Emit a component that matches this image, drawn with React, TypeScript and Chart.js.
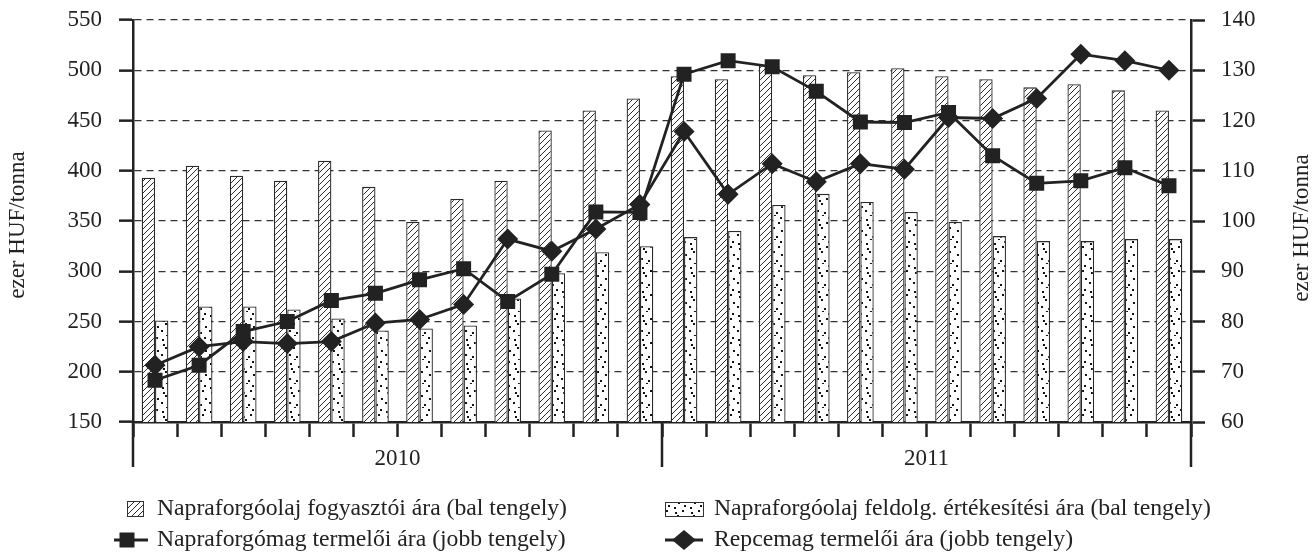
import React, { useEffect, useRef } from 'react';
import { Chart, registerables } from 'chart.js';

Chart.register(...registerables);

const years = ['2010', '2011'];
const months = ['jan', 'feb', 'már', 'ápr', 'máj', 'jún', 'júl', 'aug', 'szep', 'okt', 'nov', 'dec'];
const categories = years.flatMap((y) => months.map((m) => `${y} ${m}`));

const leftTicks = [150, 200, 250, 300, 350, 400, 450, 500, 550];
const rightTicks = [60, 70, 80, 90, 100, 110, 120, 130, 140];

const olajFogyasztoi = [393, 405, 395, 390, 410, 384, 349, 372, 390, 440, 460, 472, 494, 491, 505, 495, 498, 502, 494, 491, 483, 486, 480, 460];
const olajFeldolg = [251, 265, 265, 262, 253, 241, 243, 246, 273, 298, 319, 325, 334, 340, 366, 377, 369, 359, 349, 335, 330, 330, 332, 332];
const napraforgomag = [68.3, 71.3, 78, 80, 84.2, 85.6, 88.3, 90.5, 84, 89.4, 101.8, 101.7, 129.2, 131.9, 130.7, 125.8, 119.7, 119.6, 121.6, 113, 107.5, 108, 110.6, 107];
const repcemag = [71.3, 75, 76, 75.6, 76, 79.7, 80.4, 83.4, 96.4, 94, 98.4, 103.3, 117.8, 105.3, 111.4, 107.8, 111.4, 110.3, 120.6, 120.4, 124.4, 133.2, 131.9, 130];

const seriesNames = [
  'Napraforgóolaj fogyasztói ára (bal tengely)',
  'Napraforgóolaj feldolg. értékesítési ára (bal tengely)',
  'Napraforgómag termelői ára (jobb tengely)',
  'Repcemag termelői ára (jobb tengely)',
];
const axisTitle = 'ezer HUF/tonna';

const FONT = '"Liberation Serif", "Times New Roman", serif';
const INK = '#222';

function makeHatch(): CanvasPattern | string {
  const c = document.createElement('canvas');
  c.width = 6;
  c.height = 6;
  const g = c.getContext('2d');
  if (!g) return '#fff';
  g.fillStyle = '#fff';
  g.fillRect(0, 0, 6, 6);
  g.strokeStyle = '#2a2a2a';
  g.lineWidth = 1;
  g.beginPath();
  g.moveTo(0, 6); g.lineTo(6, 0);
  g.moveTo(-3, 3); g.lineTo(3, -3);
  g.moveTo(3, 9); g.lineTo(9, 3);
  g.stroke();
  return g.createPattern(c, 'repeat') || '#fff';
}

function makeDots(): CanvasPattern | string {
  const c = document.createElement('canvas');
  c.width = 16;
  c.height = 24;
  const g = c.getContext('2d');
  if (!g) return '#fff';
  g.fillStyle = '#fff';
  g.fillRect(0, 0, 16, 24);
  g.fillStyle = '#111';
  const pts = [[2, 3], [10, 6], [5, 11], [13, 14], [1, 18], [8, 20], [12, 1], [6, 23], [3, 8]];
  pts.forEach(([x, y]) => g.fillRect(x, y, 2, 2));
  return g.createPattern(c, 'repeat') || '#fff';
}

export default function App() {
  const ref = useRef<HTMLCanvasElement | null>(null);

  useEffect(() => {
    document.body.style.margin = '0';
    const canvas = ref.current;
    if (!canvas) return;
    const hatch = makeHatch();
    const dots = makeDots();

    const decor = {
      id: 'decor',
      afterDraw(chart: any) {
        const ctx = chart.ctx as CanvasRenderingContext2D;
        const xs = chart.scales.x;
        const area = chart.chartArea;
        const half = (xs.getPixelForValue(1) - xs.getPixelForValue(0)) / 2;
        ctx.save();
        ctx.strokeStyle = INK;
        ctx.lineWidth = 2.5;
        ctx.beginPath();
        ctx.moveTo(area.left, area.bottom);
        ctx.lineTo(area.left, 467);
        ctx.moveTo(area.right, area.bottom);
        ctx.lineTo(area.right, 467);
        for (let i = 1; i < years.length; i++) {
          const bx = xs.getPixelForValue(i * 12) - half;
          ctx.moveTo(bx, area.bottom);
          ctx.lineTo(bx, 467);
        }
        ctx.stroke();
        ctx.fillStyle = INK;
        ctx.font = `23px ${FONT}`;
        ctx.textAlign = 'center';
        ctx.textBaseline = 'middle';
        years.forEach((y, i) => {
          const l = xs.getPixelForValue(i * 12) - half;
          const r = xs.getPixelForValue(i * 12 + 11) + half;
          ctx.fillText(y, (l + r) / 2, 459);
        });
        ctx.save();
        ctx.translate(18, 225);
        ctx.rotate(-Math.PI / 2);
        ctx.fillText(axisTitle, 0, 0);
        ctx.restore();
        ctx.save();
        ctx.translate(1302, 228);
        ctx.rotate(-Math.PI / 2);
        ctx.fillText(axisTitle, 0, 0);
        ctx.restore();

        ctx.textAlign = 'left';
        const r1 = 509;
        const r2 = 540;
        ctx.lineWidth = 1;
        ctx.strokeStyle = '#333';
        ctx.fillStyle = hatch as any;
        ctx.fillRect(127, 501, 16, 15);
        ctx.strokeRect(127.5, 501.5, 16, 15);
        ctx.fillStyle = dots as any;
        ctx.fillRect(665, 502, 38, 14);
        ctx.strokeRect(665.5, 502.5, 38, 14);

        ctx.strokeStyle = INK;
        ctx.lineWidth = 2.8;
        ctx.beginPath();
        ctx.moveTo(114, r2);
        ctx.lineTo(148, r2);
        ctx.moveTo(665, r2);
        ctx.lineTo(703, r2);
        ctx.stroke();
        ctx.fillStyle = INK;
        ctx.fillRect(127 - 7.5, r2 - 7.5, 15, 15);
        ctx.beginPath();
        ctx.moveTo(684, r2 - 10);
        ctx.lineTo(696, r2);
        ctx.lineTo(684, r2 + 10);
        ctx.lineTo(672, r2);
        ctx.closePath();
        ctx.fill();

        ctx.fillStyle = INK;
        ctx.font = `23.7px ${FONT}`;
        ctx.fillText(seriesNames[0], 157, r1);
        ctx.fillText(seriesNames[1], 714, r1);
        ctx.fillText(seriesNames[2], 157, r2);
        ctx.fillText(seriesNames[3], 714, r2);
        ctx.restore();
      },
    };

    const chart = new Chart(canvas, {
      type: 'bar',
      data: {
        labels: categories,
        datasets: [
          {
            type: 'bar',
            label: seriesNames[0],
            data: olajFogyasztoi,
            yAxisID: 'y',
            backgroundColor: hatch as any,
            borderColor: '#2a2a2a',
            borderWidth: 1.3,
            barPercentage: 1,
            categoryPercentage: 0.605,
            order: 3,
          },
          {
            type: 'bar',
            label: seriesNames[1],
            data: olajFeldolg,
            yAxisID: 'y',
            backgroundColor: dots as any,
            borderColor: '#2a2a2a',
            borderWidth: 1.3,
            barPercentage: 1,
            categoryPercentage: 0.605,
            order: 4,
          },
          {
            type: 'line',
            label: seriesNames[2],
            data: napraforgomag,
            yAxisID: 'y1',
            borderColor: INK,
            backgroundColor: INK,
            borderWidth: 2.8,
            pointStyle: 'rect',
            pointRadius: 10.6,
            pointBorderWidth: 0,
            tension: 0,
            order: 2,
          },
          {
            type: 'line',
            label: seriesNames[3],
            data: repcemag,
            yAxisID: 'y1',
            borderColor: INK,
            backgroundColor: INK,
            borderWidth: 2.8,
            pointStyle: 'rectRot',
            pointRadius: 10.5,
            pointBorderWidth: 0,
            tension: 0,
            order: 1,
          },
        ] as any,
      },
      options: {
        animation: false,
        responsive: false,
        maintainAspectRatio: false,
        layout: { padding: { top: 20, left: 0, right: 0, bottom: 0 } },
        plugins: { legend: { display: false }, tooltip: { enabled: false }, title: { display: false } },
        scales: {
          x: {
            type: 'category',
            offset: true,
            grid: {
              offset: true,
              drawOnChartArea: false,
              drawTicks: true,
              tickLength: 15,
              tickColor: INK,
              tickWidth: 2.5,
              color: INK,
            },
            border: { display: true, color: INK, width: 2.5 },
            ticks: { display: true, callback: () => '', font: { family: FONT, size: 23 } },
            afterFit: (s: any) => { s.height = 135; s.paddingLeft = 0; s.paddingRight = 0; },
          },
          y: {
            position: 'left',
            min: 150,
            max: 550,
            afterBuildTicks: (s: any) => { s.ticks = leftTicks.map((v) => ({ value: v })); },
            grid: {
              color: '#333',
              lineWidth: 1.3,
              drawTicks: true,
              tickLength: 14,
              tickColor: INK,
              tickWidth: 2.5,
              tickBorderDash: [],
            },
            border: { display: true, color: INK, width: 2.5, dash: [7, 5] },
            ticks: { color: INK, padding: 17, font: { family: FONT, size: 23 } },
            afterFit: (s: any) => { s.width = 133; s.paddingTop = 0; s.paddingBottom = 0; },
          },
          y1: {
            position: 'right',
            min: 60,
            max: 140,
            afterBuildTicks: (s: any) => { s.ticks = rightTicks.map((v) => ({ value: v })); },
            grid: {
              drawOnChartArea: false,
              drawTicks: true,
              tickLength: 14,
              tickColor: INK,
              tickWidth: 2.5,
              color: INK,
            },
            border: { display: true, color: INK, width: 2.5 },
            ticks: { color: INK, padding: 16, font: { family: FONT, size: 23 } },
            afterFit: (s: any) => { s.width = 122; s.paddingTop = 0; s.paddingBottom = 0; },
          },
        },
      } as any,
      plugins: [decor],
    });
    return () => chart.destroy();
  }, []);

  return (
    <div style={{ width: 1313, height: 557 }}>
      <canvas ref={ref} width={1313} height={557} style={{ display: 'block', width: 1313, height: 557 }} />
    </div>
  );
}
